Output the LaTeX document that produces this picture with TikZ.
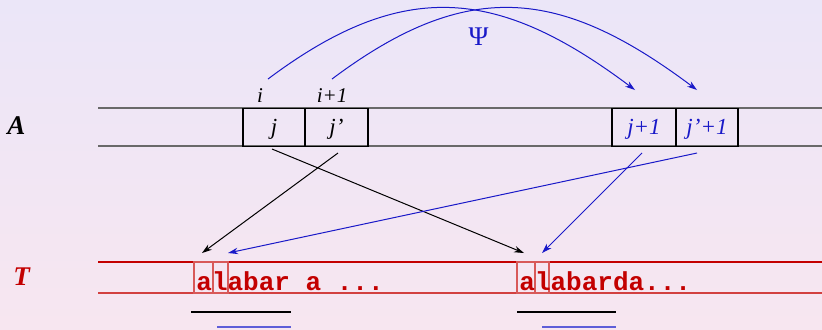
\documentclass[tikz,border=0pt]{standalone}
\usepackage{fontspec}
\setmainfont{Liberation Serif}
\setmonofont{Liberation Mono}
\usetikzlibrary{arrows.meta}
\definecolor{bgtop}{RGB}{235,230,248}
\definecolor{bgbot}{RGB}{247,230,240}
\definecolor{myblue}{RGB}{25,25,200}
\definecolor{myred}{RGB}{195,0,0}
\definecolor{lgray}{RGB}{105,105,105}
\begin{document}
\begin{tikzpicture}[x=0.5pt,y=-0.5pt,
  abox/.style={draw=black,line width=0.6pt,minimum height=19pt,inner sep=0pt,text height=8.5pt,text depth=2pt,font=\fontsize{11.5}{13}\selectfont\itshape},
  ilabel/.style={inner sep=0pt,font=\fontsize{10.5}{12}\selectfont\itshape},
  rowlabel/.style={inner sep=0pt,font=\fontsize{13.5}{15}\selectfont\bfseries\itshape},
  cell/.style={draw=myred!65,line width=0.6pt,minimum height=15.5pt,inner sep=0pt},
  ttext/.style={inner sep=0pt,anchor=base west,text=myred,font=\fontsize{13}{15}\selectfont\ttfamily\bfseries},
  blk/.style={line width=0.5pt,-{Stealth[length=5pt,width=3.2pt]}},
  blu/.style={myblue,line width=0.5pt,-{Stealth[length=5pt,width=3.2pt]}}]
\shade[top color=bgtop,bottom color=bgbot] (0,0) rectangle (822,329);
\useasboundingbox (0,0) rectangle (822,329);
% A row
\draw[lgray,line width=0.6pt] (98,108) -- (822,108);
\draw[lgray,line width=0.6pt] (98,146) -- (822,146);
\node[abox,minimum width=31pt] (bj) at (274,127.5) {j};
\node[abox,minimum width=31.5pt] (bjp) at (336.5,127.5) {j'};
\node[abox,minimum width=32pt,text=myblue] (bj1) at (644,127.5) {j+1};
\node[abox,minimum width=31pt,text=myblue] (bjp1) at (707,127.5) {j'+1};
\node[ilabel] (li) at (260,96) {i};
\node[ilabel] (li1) at (332,96) {i+1};
\node[rowlabel] (rA) at (16.5,126) {A};
\node[rowlabel,text=myred] (rT) at (21.5,277) {T};
\node[inner sep=0pt,text=myblue,font=\fontsize{13.5}{15}\selectfont] (psi) at (478.5,37) {Ψ};
% T row
\draw[myred,line width=0.6pt] (98,262) -- (822,262);
\draw[myred!75,line width=0.8pt] (98,293) -- (822,293);
\node[cell,minimum width=9.5pt] (ca1) at (203.5,277.5) {};
\node[cell,minimum width=7.5pt] (cl1) at (220.5,277.5) {};
\node[cell,minimum width=9pt] (ca2) at (526,277.5) {};
\node[cell,minimum width=7pt] (cl2) at (542,277.5) {};
\node[ttext] (t1) at (196,290.5) {alabar a ...};
\node[ttext] (t2) at (519,290.5) {alabarda...};
% underlines
\draw[black,line width=0.6pt] (191,312) coordinate (u1a) -- (291,312) coordinate (u1b);
\draw[myblue!70,line width=0.9pt] (217,327) coordinate (u2a) -- (291,327) coordinate (u2b);
\draw[black,line width=0.6pt] (517,312) coordinate (u3a) -- (616,312) coordinate (u3b);
\draw[myblue!70,line width=0.9pt] (542,327) coordinate (u4a) -- (616,327) coordinate (u4b);
% coordinates
\coordinate (s1) at (272,149);
\coordinate (s2) at (338,153);
\coordinate (s3) at (642,153);
\coordinate (s4) at (697,153);
\coordinate (e1) at (524,253);
\coordinate (e2) at (202,253);
\coordinate (e3) at (542,253);
\coordinate (e4) at (228,253);
\coordinate (a1) at (268,79);
\coordinate (a2) at (332,79);
\coordinate (b1) at (635,90);
\coordinate (b2) at (697,90);
% arrows
\draw[blk] (s1) -- (e1);
\draw[blk] (s2) -- (e2);
\draw[blu] (s3) -- (e3);
\draw[blu] (s4) -- (e4);
\draw[blu] (a1) .. controls (404,-23) and (499,-12) .. (b1);
\draw[blu] (a2) .. controls (468,-23) and (561,-12) .. (b2);
\end{tikzpicture}
\end{document}
